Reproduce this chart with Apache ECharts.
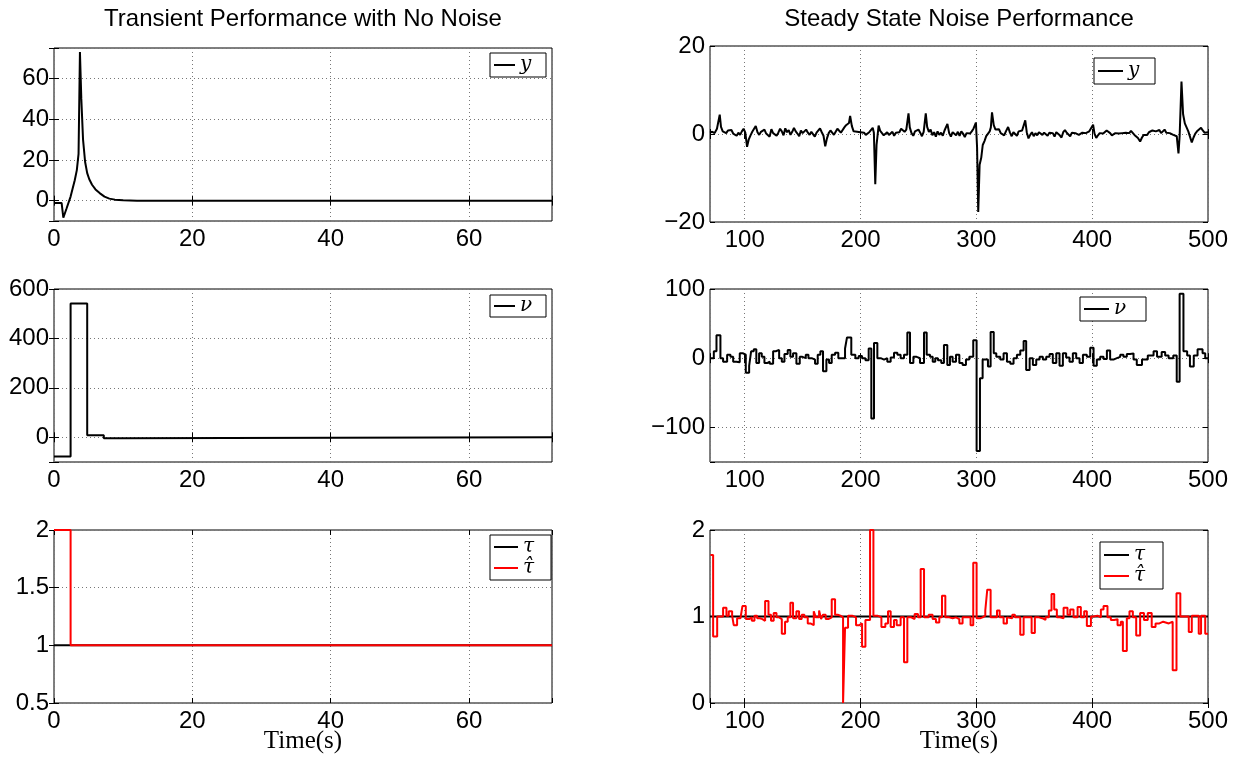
<!DOCTYPE html>
<html>
<head>
<meta charset="utf-8">
<script src="https://cdn.jsdelivr.net/npm/echarts@6/dist/echarts.min.js"></script>
<style>
  html, body { margin: 0; padding: 0; background: #fff; }
  #chart { width: 1240px; height: 759px; }
</style>
</head>
<body>
<div id="chart"></div>
<script>
// ---- Transient response (no noise), time 0..72 s ----
const yTransient = [
  [0, -1.1], [1.1, -1.1], [1.35, -8.4], [1.8, -4], [2.4, 2], [3.0, 10], [3.3, 15], [3.55, 23],
  [3.75, 73], [3.95, 50], [4.2, 30], [4.5, 19], [4.8, 13.5], [5.1, 10.5], [5.5, 7.8], [6.0, 5.5],
  [6.6, 3.7], [7.3, 2], [8.0, 1], [8.8, 0.5], [10, 0.15], [12, 0], [72, 0]
];
const nuTransient = [[0, -78], [2.4, 541], [4.8, 8], [7.2, -4], [9.6, 0], [72, 0]];
const tauTransient = [[0, 1], [72, 1]];
const tauHatTransient = [[0, 2], [2.4, 1], [72, 1]];

// ---- Steady state with measurement noise, time 70..500 s ----
const ySteady = [
  [70,0.3],[72,0.5],[74,0.2],[76,1.2],[77.5,1.5],[78.4,4.4],[79.5,1.6],[81,0.6],[82.5,0.9],[84,0.2],
  [85.5,0.8],[87,0.4],[88.5,0.9],[90,0.1],[91.5,0.5],[93,-0.4],[94.5,0.3],[96,-0.2],[97.5,0.6],[99,1.2],
  [100.5,0.3],[102,-2.9],[103.5,-1.2],[105,-0.3],[106.5,0.5],[108,0.9],[109.5,1.8],[111,0.4],[112.5,-0.2],[114,0.5],
  [115.5,0.2],[117,1.0],[118.5,0.1],[120,0.4],[121.5,-0.6],[123,1.1],[124.5,0.2],[126,0.5],[127.5,-0.4],[129,0.3],
  [130.5,1.2],[132,0.6],[133.5,-0.3],[135,1.3],[136.5,0.4],[138,0.9],[139.5,-0.2],[141,0.5],[142.5,1.4],[144,0.6],
  [145.5,0.1],[147,-0.5],[148.5,0.8],[150,0.2],[151.5,0.6],[153,1.0],[154.5,0.3],[156,-0.2],[157.5,0.5],[159,0.2],
  [160.5,-0.6],[162,0.3],[163.5,0.7],[165,1.3],[166.5,0.4],[168,-0.4],[169.5,-2.8],[171,-1.0],[172.5,0.2],[174,0.8],
  [175.5,0.3],[177,-0.2],[178.5,0.5],[180,1.2],[181.5,0.9],[183,0.3],[184.5,0.6],[186,1.5],[187.5,2.0],[189,1.6],
  [190,2.5],[191,4.1],[192.5,1.8],[194,0.6],[195.5,0.3],[197,0.5],[198.5,0.1],[200,0.4],[201.5,0.2],[203,0.3],
  [204.5,-0.2],[206,0.1],[207.5,0.4],[209,0.2],[210.5,1.4],[211.5,0.3],[212.7,-11.4],[213.8,-2.5],[215.6,1.9],[217,0.7],
  [218.5,0.2],[220,-0.3],[221.5,0.1],[223,0.4],[224.5,-0.2],[226,0.2],[227.5,0.5],[229,-0.4],[230.5,0.3],[232,0.6],
  [233.5,0.4],[235,1.2],[236.5,0.8],[238,0.5],[239.5,1.0],[241.4,4.7],[242.5,1.5],[244,0.2],[245.5,-0.4],[247,0.6],
  [248.5,0.2],[250,1.0],[251.5,0.3],[253,-0.5],[254.5,0.5],[256.3,4.7],[257.5,1.6],[259,0.5],[260.5,1.0],[262,-0.3],
  [263.5,0.4],[265,-0.6],[266.5,0.6],[268,-0.2],[269.5,0.3],[271,-0.4],[272.5,0.8],[274,1.2],[275,2.3],[276.5,0.2],
  [278,-0.6],[279.5,0.4],[281,0.2],[282.5,-0.3],[284,0.5],[285.5,-0.4],[287,0.6],[288.5,0.1],[290,-0.7],[291.5,0.2],
  [293,0.4],[294.5,0.1],[296,0.6],[297.5,1.2],[299.6,2.6],[300.6,-3],[301.6,-17.7],[302.8,-7],[304.2,-5.4],[305.5,-2.5],
  [307,-1.6],[308.5,-0.5],[310,-0.8],[311.5,0.6],[312.5,1.5],[313.5,4.9],[315,2.0],[316.5,1.0],[318,0.6],[319.5,1.1],
  [321,0.2],[322.5,0.5],[324,-0.3],[325.5,0.6],[327.4,1.6],[329,0.3],[330.5,-0.5],[332,0.4],[333.5,0.2],[335,-0.4],
  [336.5,0.6],[338,0.2],[339.5,0.8],[340.8,1.2],[342.2,3.1],[343.5,0.4],[345,-1.0],[346.5,-0.2],[348,0.4],[349.5,-0.5],
  [351,0.2],[352.5,-0.3],[354,0.4],[355.5,0.1],[357,-0.2],[358.5,0.3],[360,0.2],[361.5,-0.4],[363,0.3],[364.5,0.5],
  [366,0.2],[367.5,-0.6],[369,0.4],[370.5,0.8],[372,-0.3],[373.5,-0.8],[375,0.4],[376.5,0.9],[378,0.3],[379.5,0.1],
  [381,-0.5],[382.5,0.3],[384,0.6],[385.5,0.2],[387,0.4],[388.5,-0.2],[390,-0.6],[391.5,0.3],[393,0.5],[394.5,0.2],
  [396,0.4],[397.5,0.6],[399,1.0],[400.8,2.1],[402,0.1],[403.5,-0.9],[405,-0.3],[406.5,0.2],[408,-0.2],[409.5,0.1],
  [411,0.3],[412.5,0.8],[414,1.0],[415.5,0.2],[417,-0.3],[418.5,0.1],[420,0.2],[421.5,0.4],[423,0.1],[424.5,0.3],
  [426,0.2],[427.5,0.5],[429,0.3],[430.5,0.5],[432,0.2],[433.5,0.7],[435,0.3],[436.5,-0.2],[438,-0.6],[439.5,-0.9],
  [441.4,-1.7],[443,-0.8],[444.5,-0.2],[446,0.2],[447.5,-0.2],[449,0.4],[450.5,0.2],[452,0.8],[453.5,0.4],[455,0.6],
  [456.5,0.3],[458,0.9],[459.5,0.2],[461,0.5],[462.5,1.0],[464,0.3],[465.5,0.5],[467,0.2],[468.5,0.4],[470,-0.2],
  [471.5,0.2],[473,-0.5],[474.5,-4.4],[475.5,-0.5],[477.1,11.9],[478.5,4.5],[480,2.4],[481.5,1.5],[483,0.6],[484.5,0.2],
  [486,-1.9],[487.5,-0.8],[489,0.1],[490.5,0.6],[492,0.4],[494,1.4],[495.5,0.8],[497,0.3],[498.5,0.6],[500,0.4]
];

// control input, held between update instants
const nuSteady = [
  [70.4,0],[73.3,10],[75.6,33],[79,0],[81.3,-5],[84.8,5],[87.7,2],[90,-5],[92.8,-6],[95.7,7],
  [98.6,5],[100.9,-21],[103.8,-11],[105.5,10],[107.8,13],[110,-7],[112.4,7],[114.7,2],[117,-7],[119.3,-5],
  [121.6,-8],[124.5,10],[126.8,12],[129.7,0],[132,-5],[134.3,6],[137.1,12],[139.4,2],[141.7,7],[144.6,-8],
  [147.5,2],[149.8,0],[152.7,5],[155,0],[157.8,-2],[160.7,-8],[163,5],[165.3,10],[167.6,-19],[170.5,-2],
  [172.8,-7],[175.1,5],[178,8],[180.8,0],[186.6,14],[188.3,30],[192,5],[195.5,0],[198.4,3],[201.3,0],
  [204.2,-3],[207,14],[209.3,-87],[211.6,22],[214.5,0],[217.4,-2],[220.3,0],[223.1,-5],[226,1],[228.9,8],
  [231.8,5],[234.6,0],[237.5,5],[240.4,37],[242.7,-7],[245.6,2],[248.4,0],[251.3,-7],[254.8,37],[257.1,5],
  [260,2],[262.3,-5],[264.5,0],[266.8,-3],[269.7,-7],[272,19],[274.9,-10],[277.2,2],[279.5,-5],[282.4,5],
  [285.3,-7],[288.1,-10],[291,-2],[293.9,2],[297.3,26],[300.2,-134],[303.1,-29],[305.4,-2],[310,-12],[312.3,38],
  [315,7],[317.2,2],[320.6,-2],[323.5,7],[326.4,-5],[329.3,-8],[332.1,0],[335,5],[337.9,11],[340.8,25],
  [343,-17],[346,0],[348.8,-10],[351.7,-2],[354.6,2],[357.4,-2],[360.3,2],[363.2,6],[366,-7],[369,7],
  [371.8,-11],[374.7,7],[377.5,1],[380.4,-5],[383.3,7],[386.2,0],[389.1,-7],[392,5],[395.4,2],[398.3,15],
  [401.2,-11],[404,-2],[406.9,2],[409.8,-1],[412.7,11],[415.5,-2],[418.4,0],[421.3,2],[424.2,5],[427,2],
  [429.9,6],[432.8,7],[435.7,-2],[438.5,-10],[443,-2],[448,4],[453,10],[456,2],[460,9],[463,4],
  [466,0],[470,4],[473,-34],[475.5,93],[478.8,10],[482,4],[484.4,-12],[487.7,4],[491,13],[495.3,7],
  [497.6,0],[500,0]
];

const tauSteady = [[70, 1], [500, 1]];
const tauHatSteady = [
  [70.4,1.71],[72.7,0.77],[76.2,1.0],[81.3,1.10],[84.2,1.01],[86.2,1.06],[89.1,1.01],[90.5,0.90],[93.4,0.98],[96.3,0.97],
  [98,1.12],[100.9,0.97],[103.8,0.99],[106.1,0.95],[108.4,1.01],[110.7,0.98],[113,0.97],[115.3,0.95],[117.6,1.18],[120.5,1.02],
  [122.7,0.95],[125,1.04],[127.4,0.99],[129.7,0.97],[132,0.80],[134.8,0.94],[137.1,0.99],[139.4,1.16],[141.7,0.98],[144.6,1.06],
  [146.9,0.97],[149.2,1.02],[151.5,0.99],[154.4,0.92],[156.7,0.90],[159.6,1.06],[161.3,0.99],[164.2,1.07],[165.9,0.97],[167.6,1.02],
  [169.9,0.97],[172.2,0.99],[175.1,1.20],[178,1.02],[180.3,1.01],[182.6,0.99],[184.9,0.0],[186.6,0.87],[189.2,1.01],[192.7,0.99],
  [196.1,0.90],[199,0.92],[201.3,0.65],[204.2,0.96],[208.2,2.0],[211.1,1.01],[214.5,0.99],[218,0.88],[221.4,0.92],[223.7,1.06],
  [226,0.88],[228.9,0.96],[231.2,0.90],[234.6,0.99],[237.5,0.47],[240.4,0.99],[243.8,0.97],[246.7,1.03],[249.6,0.99],[251.9,1.55],
  [254.8,0.99],[258.8,1.02],[262.2,0.97],[265.1,0.93],[268,0.99],[270.3,1.24],[273.2,0.99],[276.6,0.98],[279.5,0.99],[282.4,0.97],
  [285.3,0.92],[288.1,0.99],[295,0.90],[297.3,1.62],[300.2,0.98],[303.1,0.99],[305.4,1.01],[307.7,1.07],[309.4,1.31],[312.3,0.99],
  [317.8,1.07],[320.1,0.99],[323.5,0.92],[326.4,0.99],[328.1,0.98],[331,1.02],[333.3,0.99],[337.9,0.79],[340.8,0.99],[347.7,0.81],
  [350.5,0.99],[354,0.98],[356.9,0.96],[359.7,0.99],[362.6,1.07],[364.9,1.26],[367.2,1.08],[369.5,0.99],[372.4,0.98],[375.3,1.10],
  [378.7,1.02],[381,1.08],[383.9,0.99],[387.4,1.11],[390.2,0.99],[393.1,1.06],[395.4,0.89],[398.9,1.0],[401.2,1.01],[404.6,0.99],
  [407.5,1.08],[409.8,1.12],[413.2,0.99],[416.1,0.96],[419,0.97],[421.9,0.90],[424.7,0.94],[426.5,0.60],[429.9,0.98],[432.2,1.06],
  [435.1,0.99],[438,0.78],[441.4,1.04],[444.7,0.96],[448,1.04],[451.4,0.88],[454.7,0.92],[458,0.94],[461.3,0.92],[466.2,0.94],
  [469.5,0.38],[472.8,1.27],[476.1,1.0],[483.4,0.82],[486,1.01],[492,0.80],[494,1.01],[497.6,0.80],[500,0.80]
];

// ---- axis ranges and labelled tick spacing ----
const transientX = { min: 0, max: 72, step: 20 };
const steadyX = { min: 70, max: 500, step: 100 };
const yRanges = [
  { min: -10, max: 75, step: 20, split: 4 },    // y, transient
  { min: -20, max: 20, step: 20 },              // y, steady
  { min: -100, max: 600, step: 200, split: 3 }, // nu, transient
  { min: -150, max: 100, step: 100, split: 3 }, // nu, steady
  { min: 0.5, max: 2, step: 0.5 },              // tau, transient
  { min: 0, max: 2, step: 1 }                   // tau, steady
];

const titles = ['Transient Performance with No Noise', 'Steady State Noise Performance'];
const legendText = {
  yT: 'y', yS: 'y', nuT: 'ν', nuS: 'ν',
  tauT: 'τ', tauHatT: 'τ\u0302', tauS: 'τ', tauHatS: 'τ\u0302'
};

// ---- layout ----
const colLeft = [54, 710];
const plotW = 498;
const rows = [
  [{ top: 48, h: 173 }, { top: 46, h: 176 }],
  [{ top: 289, h: 173 }, { top: 289, h: 173 }],
  [{ top: 530, h: 173 }, { top: 530, h: 173 }]
];

const FONT = 'Liberation Sans, Arial, Helvetica, sans-serif';
const SERIF = 'Liberation Serif, Times New Roman, DejaVu Serif, serif';
const MATH = 'DejaVu Serif, serif';

function isMultiple(v, step) {
  const r = v / step;
  return Math.abs(r - Math.round(r)) < 1e-6;
}
function fmt(v, step) {
  if (!isMultiple(v, step)) return '';
  return String(+v.toFixed(6)).replace('-', '\u2212');
}

const grids = [], xAxes = [], yAxes = [];
const gridLine = { show: true, lineStyle: { color: '#777', type: [1, 3], width: 1 } };
const tick = { show: true, inside: true, length: 5, lineStyle: { color: '#000', width: 1 } };

for (let r = 0; r < 3; r++) {
  for (let c = 0; c < 2; c++) {
    const gi = r * 2 + c;
    const L = rows[r][c];
    grids.push({
      left: colLeft[c], top: L.top, width: plotW, height: L.h,
      show: true, borderColor: '#000', borderWidth: 1, backgroundColor: '#fff'
    });
    const xr = c === 0 ? transientX : steadyX;
    const yr = yRanges[gi];
    const xBase = {
      type: 'value', gridIndex: gi, min: xr.min, max: xr.max,
      splitNumber: 4, axisLine: { show: false }
    };
    if (c === 0) xBase.interval = xr.step;
    xAxes.push(Object.assign({}, xBase, {
      position: 'bottom', axisTick: tick,
      axisLabel: { color: '#000', fontFamily: FONT, fontSize: 24, margin: 6,
        showMinLabel: true, showMaxLabel: true,
        formatter: (v) => fmt(v, xr.step) },
      splitLine: gridLine
    }));
    xAxes.push(Object.assign({}, xBase, {
      position: 'top', axisTick: tick, axisLabel: { show: false }, splitLine: { show: false }
    }));
    const yBase = {
      type: 'value', gridIndex: gi, min: yr.min, max: yr.max,
      axisLine: { show: false }
    };
    if (isMultiple(yr.min, yr.step)) yBase.interval = yr.step; else yBase.splitNumber = yr.split;
    yAxes.push(Object.assign({}, yBase, {
      position: 'left', axisTick: tick,
      axisLabel: { color: '#000', fontFamily: FONT, fontSize: 24, margin: 5,
        showMinLabel: true, showMaxLabel: true,
        formatter: (v) => fmt(v, yr.step) },
      splitLine: gridLine
    }));
    yAxes.push(Object.assign({}, yBase, {
      position: 'right', axisTick: tick, axisLabel: { show: false }, splitLine: { show: false }
    }));
  }
}

function line(name, gi, data, color, step) {
  return {
    name, type: 'line', xAxisIndex: gi * 2, yAxisIndex: gi * 2,
    data, symbol: 'none', showSymbol: false, step: step || false, clip: true,
    lineStyle: { color, width: 2 }, itemStyle: { color },
    emphasis: { disabled: true }, animation: false
  };
}

const series = [
  line('yT', 0, yTransient, '#000'),
  line('yS', 1, ySteady, '#000'),
  line('nuT', 2, nuTransient, '#000', 'end'),
  line('nuS', 3, nuSteady, '#000', 'end'),
  line('tauT', 4, tauTransient, '#000'),
  line('tauHatT', 4, tauHatTransient, '#ff0000', 'end'),
  line('tauS', 5, tauSteady, '#000'),
  line('tauHatS', 5, tauHatSteady, '#ff0000', 'end')
];

// boxed legend: line sample followed by an italic symbol
function legendBox(names, o) {
  return {
    data: names, left: o.left, top: o.top, orient: 'vertical',
    icon: 'rect', itemWidth: o.lineW, itemHeight: 2, itemGap: o.gap || 0,
    padding: o.pad, borderColor: '#000', borderWidth: 1, borderRadius: 0,
    backgroundColor: '#fff', selectedMode: false,
    formatter: (n) => legendText[n],
    textStyle: { fontFamily: MATH, fontStyle: 'italic', fontSize: 20, color: '#000',
      width: o.textW, lineHeight: o.lh, align: 'left' }
  };
}

const legends = [
  legendBox(['yT'], { left: 490, top: 53, lineW: 21, textW: 22, lh: 16, pad: [2, 4, 2, 4] }),
  legendBox(['yS'], { left: 1094, top: 58, lineW: 25, textW: 23, lh: 18, pad: [3, 4, 3, 4] }),
  legendBox(['nuT'], { left: 490, top: 295, lineW: 21, textW: 22, lh: 12, pad: [1, 4, 1, 4] }),
  legendBox(['nuS'], { left: 1080, top: 297, lineW: 25, textW: 28, lh: 14, pad: [2, 4, 2, 4] }),
  legendBox(['tauT', 'tauHatT'], { left: 490, top: 535, lineW: 24, textW: 24, lh: 15, gap: 1, pad: [2, 4, 2, 4] }),
  legendBox(['tauS', 'tauHatS'], { left: 1100, top: 542, lineW: 25, textW: 25, lh: 17, gap: 1, pad: [3, 4, 3, 4] })
];

const graphics = [];
for (let c = 0; c < 2; c++) {
  const cx = colLeft[c] + plotW / 2;
  graphics.push({
    type: 'text', x: cx, y: 19, silent: true,
    style: { text: titles[c], textAlign: 'center', textVerticalAlign: 'middle',
      font: '24px ' + FONT, fill: '#000' }
  });
  graphics.push({
    type: 'text', x: cx, y: 741, silent: true,
    style: { text: 'Time(s)', textAlign: 'center', textVerticalAlign: 'middle',
      font: '25px ' + SERIF, fill: '#000' }
  });
}

const chart = echarts.init(document.getElementById('chart'), null, { renderer: 'canvas' });
chart.setOption({
  animation: false,
  backgroundColor: '#fff',
  grid: grids,
  xAxis: xAxes,
  yAxis: yAxes,
  legend: legends,
  series,
  graphic: graphics
});
</script>
</body>
</html>
